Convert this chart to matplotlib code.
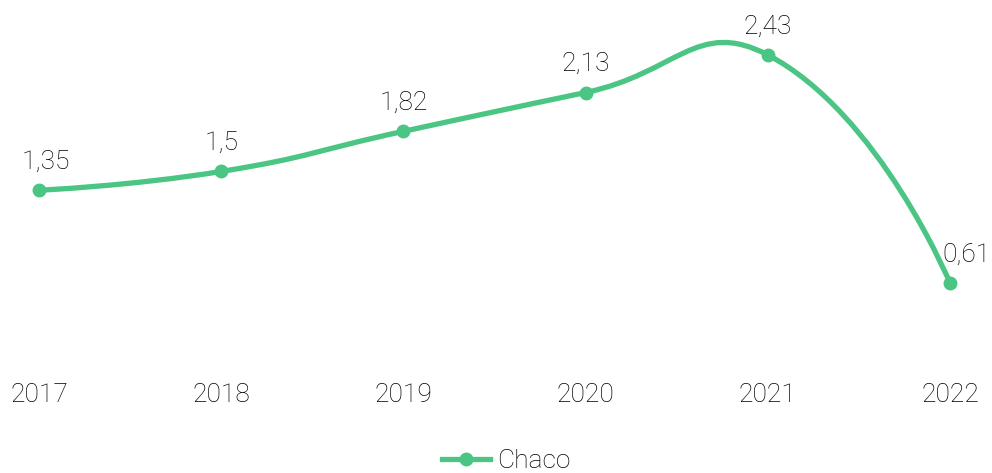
import numpy as np
import matplotlib
matplotlib.use("Agg")
import matplotlib.pyplot as plt
from matplotlib.path import Path
from matplotlib.patches import PathPatch
from matplotlib.lines import Line2D

plt.rcParams['font.family'] = ['Roboto', 'DejaVu Sans']

years = ['2017', '2018', '2019', '2020', '2021', '2022']
values = [1.35, 1.5, 1.82, 2.13, 2.43, 0.61]
labels = ['1,35', '1,5', '1,82', '2,13', '2,43', '0,61']
series_name = 'Chaco'

color = '#4bc583'
text_color = '#000000'
fsize = 19
fweight = 'light'

fig = plt.figure(figsize=(9.92, 4.73), dpi=100)
ax = fig.add_axes([39 / 992, (473 - 359.4) / 473, (950 - 39) / 992, 359.4 / 473])
xs = np.arange(len(years))
ax.set_xlim(0, len(years) - 1)
ax.set_ylim(0, 359.4 / 125.3)

# smooth curve: cubic bezier segments, echarts-like control points
sx, sy = 182.2, 125.3  # pixel scale for segment lengths
smooth = 0.5
pts = list(zip(xs, values))
n = len(pts)
verts = [pts[0]]
codes = [Path.MOVETO]
cp0 = pts[0]
for i in range(1, n):
    x, y = pts[i]
    px, py = pts[i - 1]
    if i == n - 1:
        cp1 = (x, y)
        nxt = None
    else:
        nx, ny = pts[i + 1]
        vx, vy = nx - px, ny - py
        l0 = np.hypot((x - px) * sx, (y - py) * sy)
        l1 = np.hypot((nx - x) * sx, (ny - y) * sy)
        r = l1 / (l0 + l1)
        cp1 = (x - vx * smooth * (1 - r), y - vy * smooth * (1 - r))
        nxt = (x + vx * smooth * r, y + vy * smooth * r)
    verts += [cp0, cp1, (x, y)]
    codes += [Path.CURVE4] * 3
    cp0 = nxt
ax.add_patch(PathPatch(Path(verts, codes), facecolor='none', edgecolor=color,
                       lw=3.8, capstyle='round', joinstyle='round', clip_on=False))
ax.plot(xs, values, 'o', color=color, markersize=9, clip_on=False, zorder=3)

# labels at the edges are nudged inwards/right like the original
dx = [5, 0, 0, 0, 0, 12]
for x, v, t, d in zip(xs, values, labels, dx):
    ax.annotate(t, (x, v), xytext=(d, 12), textcoords='offset points',
                ha='center', va='bottom', fontsize=fsize, fontweight=fweight,
                color=text_color)

ax.set_xticks(xs)
ax.set_xticklabels(years, fontsize=fsize, fontweight=fweight, color=text_color)
ax.tick_params(axis='x', length=0, pad=17)
ax.set_yticks([])
for s in ax.spines.values():
    s.set_visible(False)

handle = Line2D([], [], color=color, lw=3.8, marker='o', markersize=9)
leg = fig.legend([handle], [series_name], loc='center', bbox_to_anchor=(506 / 992, 1 - 461 / 473),
                 frameon=False, handlelength=1.85, handletextpad=0.25,
                 prop={'family': ['Roboto', 'DejaVu Sans'], 'size': fsize, 'weight': fweight})
for t in leg.get_texts():
    t.set_color(text_color)

fig.savefig('out.png', dpi=100)
